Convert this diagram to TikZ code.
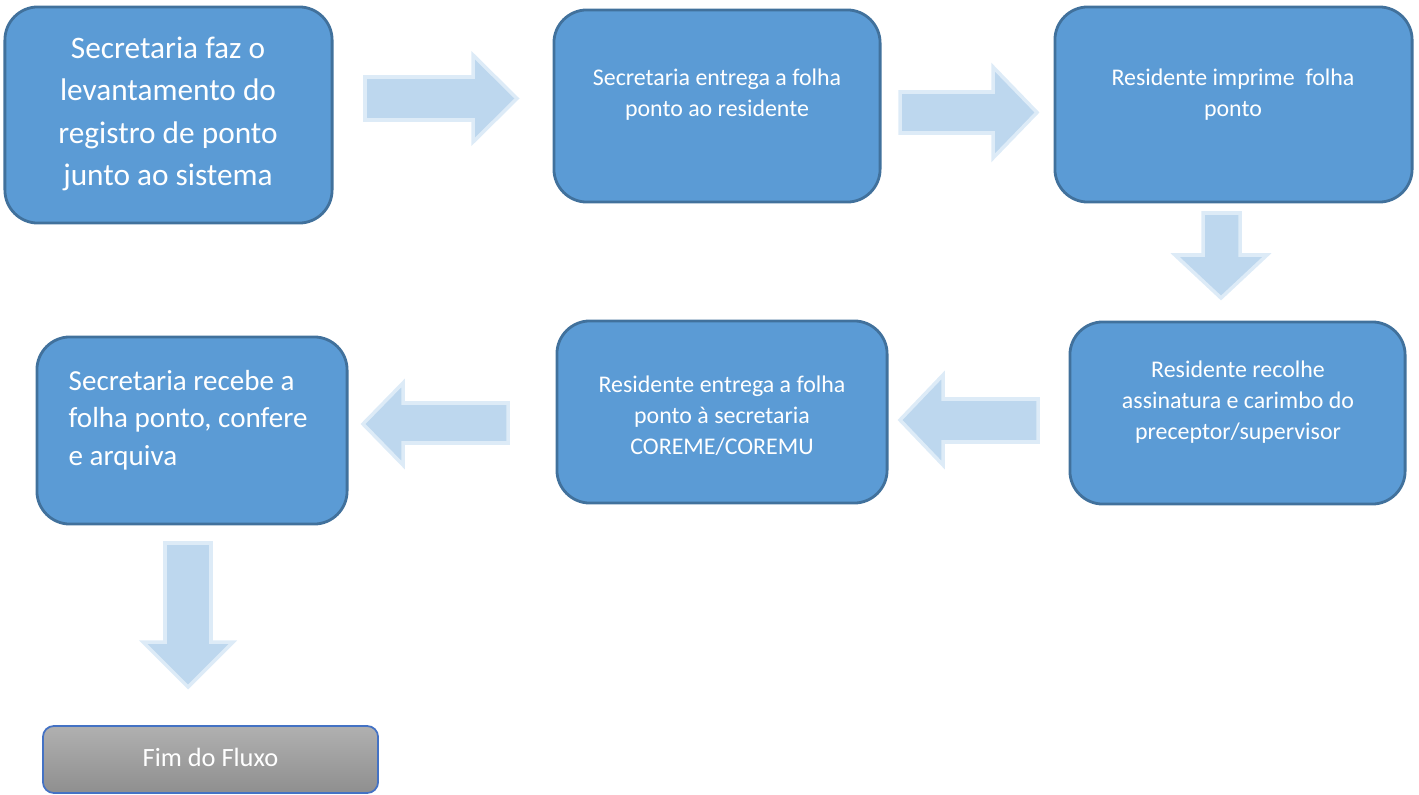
\documentclass[tikz,border=0pt]{standalone}
\usepackage{fontspec}
\setmainfont{Carlito}

\definecolor{boxfill}{HTML}{5B9BD5}
\definecolor{boxline}{HTML}{41719C}
\definecolor{arrowfill}{HTML}{BDD7EE}
\definecolor{arrowline}{HTML}{DDEBF7}
\definecolor{endline}{HTML}{4472C4}
\definecolor{endtop}{HTML}{B0B0B0}
\definecolor{endbottom}{HTML}{8F8F8F}

\begin{document}
\begin{tikzpicture}[x=0.01cm,y=-0.01cm,
    stepbox/.style={draw=boxline,fill=boxfill,line width=0.8pt,rounded corners=0.33cm,inner sep=0pt,outer sep=0pt},
    endbox/.style={draw=endline,top color=endtop,bottom color=endbottom,line width=0.5pt,rounded corners=0.11cm,inner sep=0pt,outer sep=0pt},
    bigtext/.style={text=white,inner sep=0pt,align=center,font=\fontsize{8.9}{12}\selectfont},
    smalltext/.style={text=white,inner sep=0pt,align=center,font=\fontsize{6.8}{8.8}\selectfont},
    blockarrow/.style={fill=arrowfill,draw=arrowline,line width=1pt,line join=miter}]
    \useasboundingbox (0,0) rectangle (1419,794);

    \node[stepbox,minimum width=3.27cm,minimum height=2.16cm] (b1) at (168.5,115) {};
    \node[stepbox,minimum width=3.26cm,minimum height=1.92cm] (b2) at (717,106) {};
    \node[stepbox,minimum width=3.57cm,minimum height=1.95cm] (b3) at (1233.5,104.5) {};
    \node[stepbox,minimum width=3.35cm,minimum height=1.82cm] (b4) at (1237.5,413) {};
    \node[stepbox,minimum width=3.30cm,minimum height=1.82cm] (b5) at (722,412) {};
    \node[stepbox,minimum width=3.10cm,minimum height=1.87cm] (b6) at (192,430.5) {};
    \node[endbox,minimum width=3.35cm,minimum height=0.67cm] (fim) at (210.5,759.5) {};

    \node[bigtext] (t1) at (168,114) {Secretaria faz o\\levantamento do\\registro de ponto\\junto ao sistema};
    \node[smalltext] (t2) at (717,95) {Secretaria entrega a folha\\ponto ao residente};
    \node[smalltext] (t3) at (1233,95) {Residente imprime\ \ folha\\ponto};
    \node[smalltext] (t4) at (1238,402) {Residente recolhe\\assinatura e carimbo do\\preceptor/supervisor};
    \node[smalltext] (t5) at (722,416) {Residente entrega a folha\\ponto à secretaria\\COREME/COREMU};
    \node[bigtext,align=left,anchor=west,font=\fontsize{8.26}{10.7}\selectfont] (t6) at (68,420) {Secretaria recebe a\\folha ponto, confere\\e arquiva};
    \node[text=white,inner sep=0pt,font=\fontsize{7.5}{9}\selectfont] (tfim) at (210.5,757) {Fim do Fluxo};

    \filldraw[blockarrow] (365,77) -- (473,77) -- (473,55) -- (517,98.5) -- (473,142) -- (473,120) -- (365,120) -- cycle;
    \filldraw[blockarrow] (900,92) -- (993,92) -- (993,67) -- (1037,112.5) -- (993,158) -- (993,133) -- (900,133) -- cycle;
    \filldraw[blockarrow] (1203,213) -- (1203,255) -- (1175,255) -- (1221,298) -- (1267,255) -- (1240,255) -- (1240,213) -- cycle;
    \filldraw[blockarrow] (1038,399) -- (943,399) -- (943,375) -- (900,420) -- (943,465) -- (943,442) -- (1038,442) -- cycle;
    \filldraw[blockarrow] (508,403) -- (403,403) -- (403,383) -- (363,424) -- (403,465) -- (403,443) -- (508,443) -- cycle;
    \filldraw[blockarrow] (165,543) -- (165,642) -- (143,642) -- (188,687) -- (233,642) -- (211,642) -- (211,543) -- cycle;
\end{tikzpicture}
\end{document}
